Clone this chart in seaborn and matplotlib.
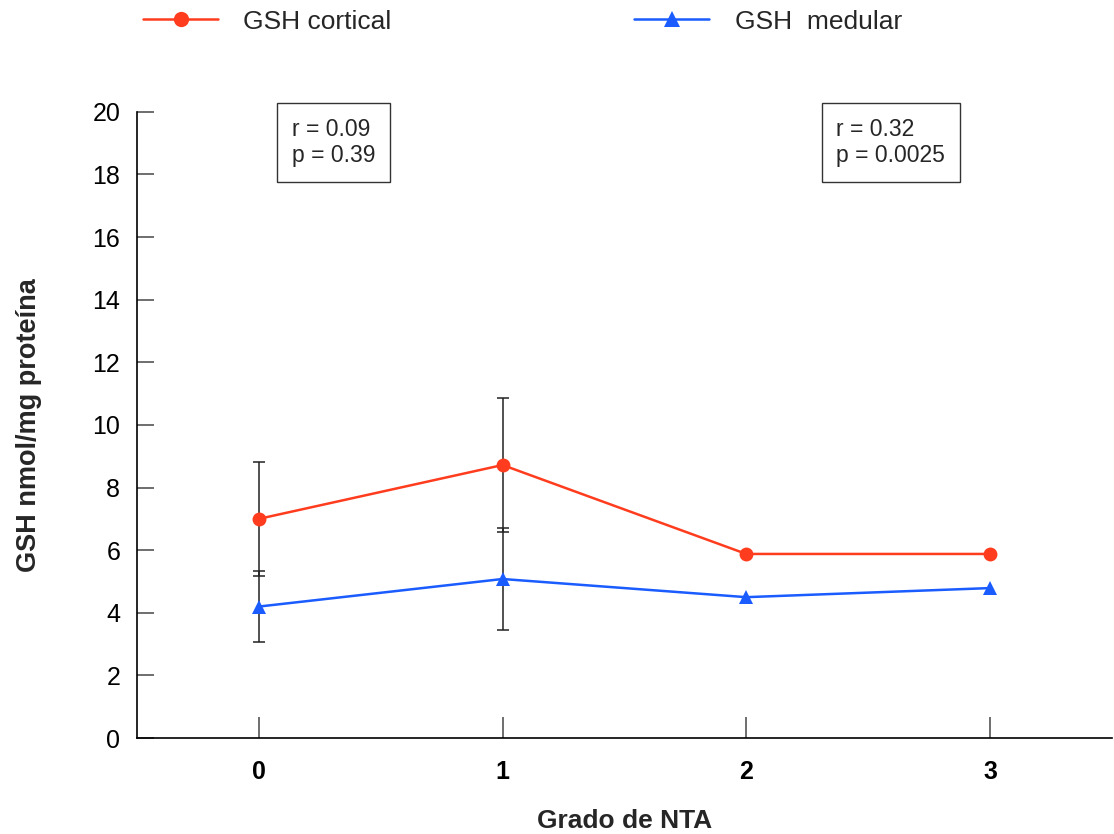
import matplotlib
matplotlib.use("Agg")
import matplotlib.pyplot as plt
from matplotlib.lines import Line2D
import seaborn as sns
import pandas as pd

# NTA grade categories and GSH means / standard deviations
grado = [0, 1, 2, 3]
cortical_media = [7.0, 8.72, 5.88, 5.88]
cortical_de = [1.83, 2.14, 0.0, 0.0]
medular_media = [4.2, 5.08, 4.5, 4.79]
medular_de = [1.12, 1.63, 0.0, 0.0]

serie_labels = ["GSH cortical", "GSH  medular"]
color_cortical = "#ff3c1e"
color_medular = "#1a5cff"

estadisticos = [("r = 0.09\np = 0.39", 0.135), ("r = 0.32\np = 0.0025", 2.37)]

df = pd.DataFrame({
    "grado": grado * 2,
    "gsh": cortical_media + medular_media,
    "serie": ["cortical"] * 4 + ["medular"] * 4,
})

sns.set_theme(style="white")
plt.rcParams["font.family"] = ["Liberation Sans", "DejaVu Sans"]

fig = plt.figure(figsize=(11.14, 8.34), dpi=100)
ax = fig.add_axes([0.123, 0.115, 0.875, 0.751])

# error bars underneath the lines
ax.errorbar(grado[:2], cortical_media[:2], yerr=cortical_de[:2], fmt="none",
            ecolor="#222222", elinewidth=1.1, capsize=4.2, capthick=1.1, zorder=1)
ax.errorbar(grado[:2], medular_media[:2], yerr=medular_de[:2], fmt="none",
            ecolor="#222222", elinewidth=1.1, capsize=4.2, capthick=1.1, zorder=1)

sns.lineplot(data=df, x="grado", y="gsh", hue="serie", style="serie",
             palette={"cortical": color_cortical, "medular": color_medular},
             markers={"cortical": "o", "medular": "^"}, dashes=False,
             markersize=10, markeredgewidth=0, linewidth=1.8,
             legend=False, ax=ax, zorder=3)

ax.set_xlim(-0.5, 3.5)
ax.set_ylim(0, 20)
ax.set_xticks(grado)
ax.set_xticklabels([str(g) for g in grado], fontweight="bold")
ax.set_yticks(range(0, 21, 2))
ax.tick_params(axis="both", direction="in", labelsize=18, colors="#555555",
               labelcolor="black", width=1.2, bottom=True, left=True)
ax.tick_params(axis="x", length=15, pad=16)
ax.tick_params(axis="y", length=12, pad=12)
for s in ["top", "right"]:
    ax.spines[s].set_visible(False)
for s in ["left", "bottom"]:
    ax.spines[s].set_color("black")
    ax.spines[s].set_linewidth(1.2)

ax.set_xlabel("Grado de NTA", fontsize=19, fontweight="bold", labelpad=18)
ax.set_ylabel("GSH nmol/mg proteína", fontsize=19.5, fontweight="bold", labelpad=36)

for texto, x0 in estadisticos:
    ax.text(x0, 19.8, texto, fontsize=16.5, va="top", ha="left", linespacing=1.15,
            bbox=dict(boxstyle="square,pad=0.65", facecolor="white",
                      edgecolor="#333333", linewidth=1.0))

handles = [
    Line2D([], [], color=color_cortical, marker="o", markersize=11,
           markeredgewidth=0, linewidth=1.8),
    Line2D([], [], color=color_medular, marker="^", markersize=11,
           markeredgewidth=0, linewidth=1.8),
]
fig.legend(handles, serie_labels, loc="upper left", bbox_to_anchor=(0.107, 1.017),
           ncol=2, frameon=False, fontsize=19, handlelength=2.85,
           handletextpad=0.95, columnspacing=9.2)

fig.savefig("out.png", dpi=100, facecolor="white")
